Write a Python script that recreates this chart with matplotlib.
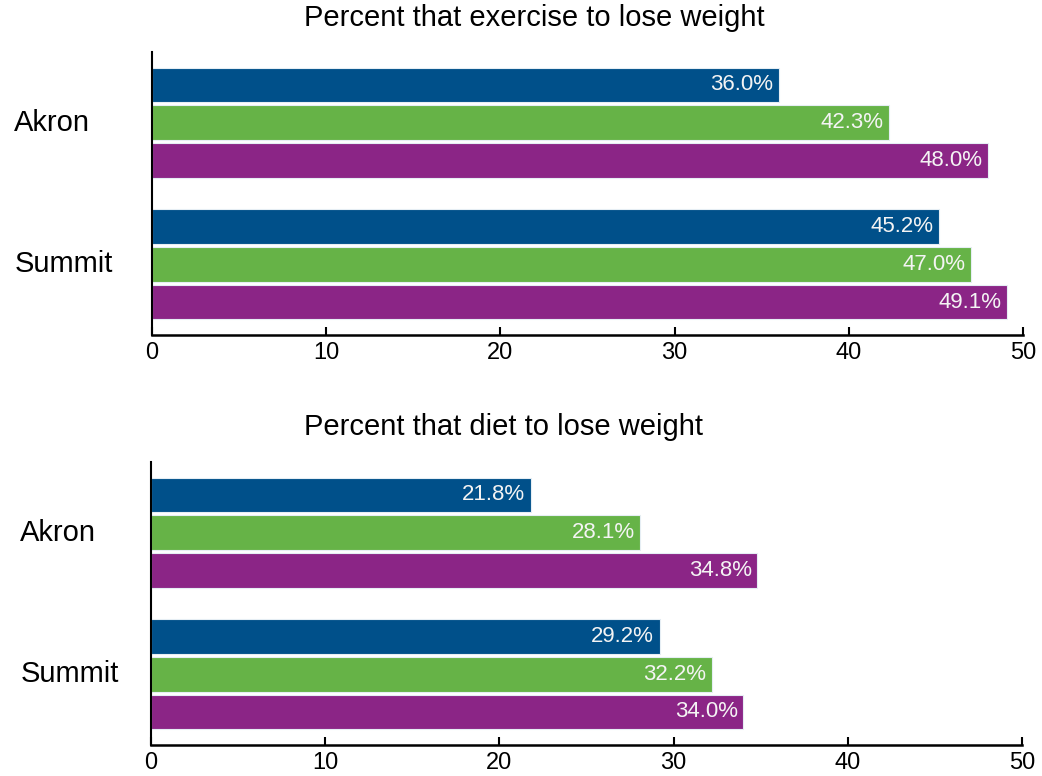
import matplotlib.pyplot as plt
import numpy as np

plt.rcParams['font.family'] = ['Liberation Sans', 'DejaVu Sans']

groups = ["Akron", "Summit"]
exercise_blue = [36.0, 45.2]
exercise_green = [42.3, 47.0]
exercise_purple = [48.0, 49.1]
diet_blue = [21.8, 29.2]
diet_green = [28.1, 32.2]
diet_purple = [34.8, 34.0]
xticks = [0, 10, 20, 30, 40, 50]

colors = ["#00508a", "#66b347", "#8b2586"]
offsets = [-0.267, 0.0, 0.267]
bar_h = 0.245


def draw_panel(ax, series, title, title_x, title_y, label_x):
    y = np.arange(len(groups))
    for i, vals in enumerate(series):
        bars = ax.barh(y + offsets[i], vals, height=bar_h, color=colors[i],
                       edgecolor="#e6eef4", linewidth=0.8)
        for b, v in zip(bars, vals):
            ax.annotate(f"{v:.1f}%", (v, b.get_y() + b.get_height() / 2),
                        xytext=(-4, 0), textcoords="offset points",
                        ha="right", va="center", color="#f4f4f4", fontsize=16)
    ax.set_xlim(0, 50)
    ax.set_ylim(1.5, -0.5)
    ax.set_xticks(xticks)
    ax.tick_params(axis="x", direction="in", length=6, width=1.5,
                   labelsize=17, pad=5)
    ax.set_yticks([])
    for s in ["top", "right"]:
        ax.spines[s].set_visible(False)
    ax.spines["left"].set_linewidth(1.5)
    ax.spines["bottom"].set_linewidth(1.8)
    for g, yy in zip(groups, y):
        ax.text(label_x, yy, g, transform=ax.get_yaxis_transform(),
                ha="left", va="center", fontsize=21)
    fig.text(title_x, title_y, title, ha="center", va="center", fontsize=21)


fig = plt.figure(figsize=(10.42, 7.76), dpi=100)
ax1 = fig.add_axes([0.1459, 0.5683, 0.8359, 0.3647])
ax2 = fig.add_axes([0.1449, 0.0400, 0.8359, 0.3647])

draw_panel(ax1, [exercise_blue, exercise_green, exercise_purple],
           "Percent that exercise to lose weight", 534.5 / 1042, 1 - 18 / 776, -0.158)
draw_panel(ax2, [diet_blue, diet_green, diet_purple],
           "Percent that diet to lose weight", 504 / 1042, 1 - 427 / 776, -0.150)

fig.savefig("out.png", dpi=100)
